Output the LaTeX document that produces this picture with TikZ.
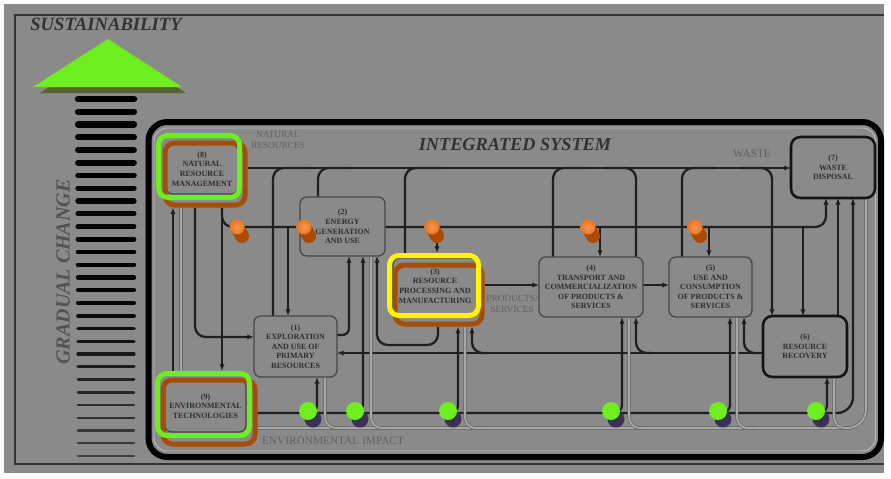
\documentclass[tikz,border=0pt]{standalone}
\usepackage{fontspec}
\setmainfont{Liberation Serif}
\usetikzlibrary{arrows.meta}
\definecolor{bgray}{RGB}{138,138,138}
\definecolor{lime}{RGB}{110,238,30}
\definecolor{olivesh}{RGB}{85,100,45}
\definecolor{rust}{RGB}{165,78,10}
\definecolor{yel}{RGB}{255,245,0}
\definecolor{orng}{RGB}{232,118,38}
\definecolor{orngl}{RGB}{246,152,72}
\definecolor{orngd}{RGB}{170,75,0}
\definecolor{purp}{RGB}{60,48,85}
\pgfdeclarelayer{back}
\pgfdeclarelayer{wires}
\pgfsetlayers{back,wires,main}
\begin{document}
\begin{tikzpicture}[x=0.75pt,y=-0.75pt,
 box/.style={draw=black!72, line width=1pt, rounded corners=5pt, fill=bgray, align=center, inner sep=1pt, outer sep=0pt, text=black!82, font=\fontsize{6}{7.2}\selectfont\bfseries},
 boxk/.style={box, draw=black!92, line width=1.9pt, rounded corners=7pt},
 hl/.style={draw=#1, line width=3.75pt, rounded corners=7pt, inner sep=0pt},
 conn/.style={line width=1.7pt, draw=black!88, rounded corners=8pt},
 arr/.style={-{Latex[length=5pt,width=4pt]}},
 imp/.style={draw=black!60, line width=0.55pt, double=bgray!75!white, double distance=1.4pt, rounded corners=8pt},
 lbl/.style={align=center, text=black!62, inner sep=0pt, font=\fontsize{7}{8}\selectfont},
 ttl/.style={text=black!80, inner sep=0pt, font=\bfseries\itshape}
]
\useasboundingbox (0,0) rectangle (891,478);

\begin{pgfonlayer}{back}
 \fill[white] (0,0) rectangle (891,478);
 \fill[bgray] (4,4) rectangle (884,473);
 \draw[black!80, line width=1.2pt] (884,15) -- (15,15) -- (15,464) -- (884,464);
 % gradual change bars
 \foreach \i in {0,...,28}{
  \pgfmathsetmacro\yy{99+\i*12.75}
  \pgfmathsetmacro\bw{(6.5-\i*0.16)*0.75}
  \pgfmathtruncatemacro\barc{\i<16 ? 100 : 100-(\i-15)*3.5}
  \draw[line width=\bw pt, line cap=round, black!\barc!bgray] (78,\yy) -- (134,\yy);
 }
 % sustainability arrow head
 \fill[olivesh] (112,46) -- (40,93) -- (186,93) -- cycle;
 \fill[lime] (108,39) -- (33,87) -- (182,87) -- cycle;
 % integrated system frame
 \draw[black, line width=4.5pt, rounded corners=14pt] (148.5,122) rectangle (881,457);
 \draw[bgray!60!white, line width=0.7pt, rounded corners=10pt] (154,128) rectangle (875.5,451);
\end{pgfonlayer}

% titles
\node[ttl, font=\fontsize{14}{16}\selectfont\bfseries\itshape] (tSus) at (106,24) {SUSTAINABILITY};
\node[ttl, font=\fontsize{13.7}{16}\selectfont\bfseries\itshape] (tInt) at (515,145) {INTEGRATED SYSTEM};
\node[ttl, rotate=90, text=black!68, font=\fontsize{15}{17}\selectfont\bfseries\itshape] (tGrad) at (63,272) {GRADUAL CHANGE};

% process boxes
\node[box, minimum width=54pt, minimum height=37.5pt] (N8) at (202,169) {(8)\\NATURAL\\RESOURCE\\MANAGEMENT};
\node[box, minimum width=63.75pt, minimum height=44.25pt] (N2) at (342.5,226.5) {(2)\\ENERGY\\GENERATION\\AND USE};
\node[box, minimum width=63pt, minimum height=42pt] (N3) at (435,286) {(3)\\RESOURCE\\PROCESSING AND\\MANUFACTURING};
\node[box, minimum width=78pt, minimum height=45pt] (N4) at (591,287) {(4)\\TRANSPORT AND\\COMMERCIALIZATION\\OF PRODUCTS \&\\SERVICES};
\node[box, minimum width=62.25pt, minimum height=45pt] (N5) at (710.5,287) {(5)\\USE AND\\CONSUMPTION\\OF PRODUCTS \&\\SERVICES};
\node[boxk, minimum width=63pt, minimum height=45.75pt] (N6) at (805,346.5) {(6)\\RESOURCE\\RECOVERY};
\node[boxk, minimum width=63pt, minimum height=45.75pt] (N7) at (833,167.5) {(7)\\WASTE\\DISPOSAL};
\node[box, minimum width=62.25pt, minimum height=45.75pt] (N1) at (295.5,346.5) {(1)\\EXPLORATION\\AND USE OF\\PRIMARY\\RESOURCES};
\node[box, minimum width=60.75pt, minimum height=39pt] (N9) at (205.5,406) {(9)\\ENVIRONMENTAL\\TECHNOLOGIES};

% highlight frames
\node[hl=rust, minimum width=60pt, minimum height=46.5pt] (N8b) at (205,174) {};
\node[hl=lime, minimum width=60.75pt, minimum height=46.5pt] (N8h) at (199,166.5) {};
\node[hl=rust, minimum width=65.25pt, minimum height=44.25pt] (N3b) at (438.5,294.5) {};
\node[hl=yel, minimum width=66.75pt, minimum height=45pt] (N3h) at (434,285.5) {};
\node[hl=rust, minimum width=69pt, minimum height=48pt] (N9b) at (209,412) {};
\node[hl=lime, minimum width=69pt, minimum height=46.5pt] (N9h) at (203.5,404.5) {};

% labels
\node[lbl] (lNat) at (278,140) {NATURAL\\RESOURCES};
\node[lbl, font=\fontsize{8.5}{9}\selectfont] (lWaste) at (752,154) {WASTE};
\node[lbl] (lProd) at (512,304) {PRODUCTS/\\SERVICES};
\node[lbl, font=\fontsize{8.5}{9}\selectfont] (lEnv) at (333,441) {ENVIRONMENTAL IMPACT};

% junctions
\coordinate (jo1) at (288,227);
\coordinate (jo3) at (437,227);
\coordinate (jo4) at (600,227);
\coordinate (jo5) at (709,227);
\coordinate (jo6) at (803,227);
\coordinate (g1) at (306,413);
\coordinate (g2) at (353,413);
\coordinate (g3) at (446,413);
\coordinate (g4) at (609,413);
\coordinate (g5) at (716,413);
\coordinate (g6) at (814,413);
\coordinate (m3) at (488,353);
\coordinate (m4) at (652,353);
\coordinate (m5) at (760,353);

\begin{pgfonlayer}{wires}
 % waste line
 \draw[conn,arr] (N8b.east |- 0,168) -- (N7.west |- 0,168);
 \draw[conn] (N1.north -| 273,0) |- (310,168);
 \draw[conn] (N2.north -| 318,0) |- (350,168);
 \draw[conn] (N3h.north -| 405,0) |- (440,168);
 \draw[conn] (N4.north -| 553,0) |- (585,168);
 \draw[conn] (N4.north -| 636,0) |- (605,168);
 \draw[conn] (N5.north -| 682,0) |- (715,168);
 \draw[conn,arr] (740,168) -| (N6.north -| 772,0);
 % natural resources line
 \draw[conn,arr] (N8b.south -| 222,0) |- (826,227) -- (N7.south -| 826,0);
 \draw[conn,arr] (N8b.south -| 222,0) -- (N9h.north -| 222,0);
 \draw[conn,arr] (jo1) -- (jo1 |- N1.north);
 \draw[conn,arr] (jo3) -- (jo3 |- N3h.north);
 \draw[conn,arr] (jo4) -- (jo4 |- N4.north);
 \draw[conn,arr] (jo5) -- (jo5 |- N5.north);
 \draw[conn,arr] (jo6) -- (jo6 |- N6.north);
 % left links
 \draw[conn,arr] (N9h.north -| 173,0) -- (N8b.south -| 173,0);
 \draw[imp] (N9h.north -| 181,0) -- (N8b.south -| 181,0);
 \draw[conn,arr] (N8b.south -| 195,0) |- (N1.west |- 0,337);
 % product chain
 \draw[conn,arr] (N3b.east |- 0,285) -- (N4.west |- 0,285);
 \draw[conn,arr] (N4.east |- 0,285) -- (N5.west |- 0,285);
 \draw[conn,arr,rounded corners=5pt] (N1.east |- 0,335) -| (N2.south -| 349,0);
 \draw[conn,arr] (N3b.south -| 438,0) |- (377,345) -- (N2.south -| 377,0);
 % recovery line
 \draw[conn,arr] (N6.west |- 0,353) -- (N1.east |- 0,353);
 \draw[conn,arr] (m3) -| (N3b.south -| 472,0);
 \draw[conn,arr] (m4) -| (N4.south -| 636,0);
 \draw[conn,arr] (m5) -| (N5.south -| 744,0);
 \draw[conn,arr] (N6.north -| 838,0) -- (N7.south -| 838,0);
 % environmental technology line
 \draw[conn,arr,rounded corners=12pt] (N9b.east |- 0,413) -| (N7.south -| 853,0);
 \draw[conn,arr,rounded corners=6pt] (g1) -| (N1.south -| 317,0);
 \draw[conn,arr,rounded corners=6pt] (g2) -| (N2.south -| 363,0);
 \draw[conn,arr,rounded corners=6pt] (g3) -| (N3b.south -| 458,0);
 \draw[conn,arr,rounded corners=6pt] (g4) -| (N4.south -| 622,0);
 \draw[conn,arr,rounded corners=6pt] (g5) -| (N5.south -| 730,0);
 \draw[conn,arr,rounded corners=6pt] (g6) -| (N6.south -| 827,0);
 % environmental impact line
 \draw[imp,rounded corners=14pt] (N9b.east |- 0,428) -| (N7.south -| 866,0);
 \draw[imp] (N1.south -| 325,0) |- (345,428);
 \draw[imp] (N2.south -| 371,0) |- (390,428);
 \draw[imp] (N3b.south -| 465,0) |- (485,428);
 \draw[imp] (N4.south -| 629,0) |- (648,428);
 \draw[imp] (N5.south -| 737,0) |- (756,428);
 \draw[imp] (N6.south -| 834,0) |- (850,428);
\end{pgfonlayer}

% markers
\foreach \x in {237,304,432,588,695}{
 \draw[orngd, line width=10.5pt, line cap=round] (\x,227) -- ++(5,9);
 \shade[inner color=orngl, outer color=orng] (\x,227) circle (7.5);
}
\foreach \x in {308,355,448,611,718,816}{
 \fill[purp] (\x+5,419) circle (8.5);
 \fill[lime] (\x,411) circle (9);
}
\end{tikzpicture}
\end{document}
